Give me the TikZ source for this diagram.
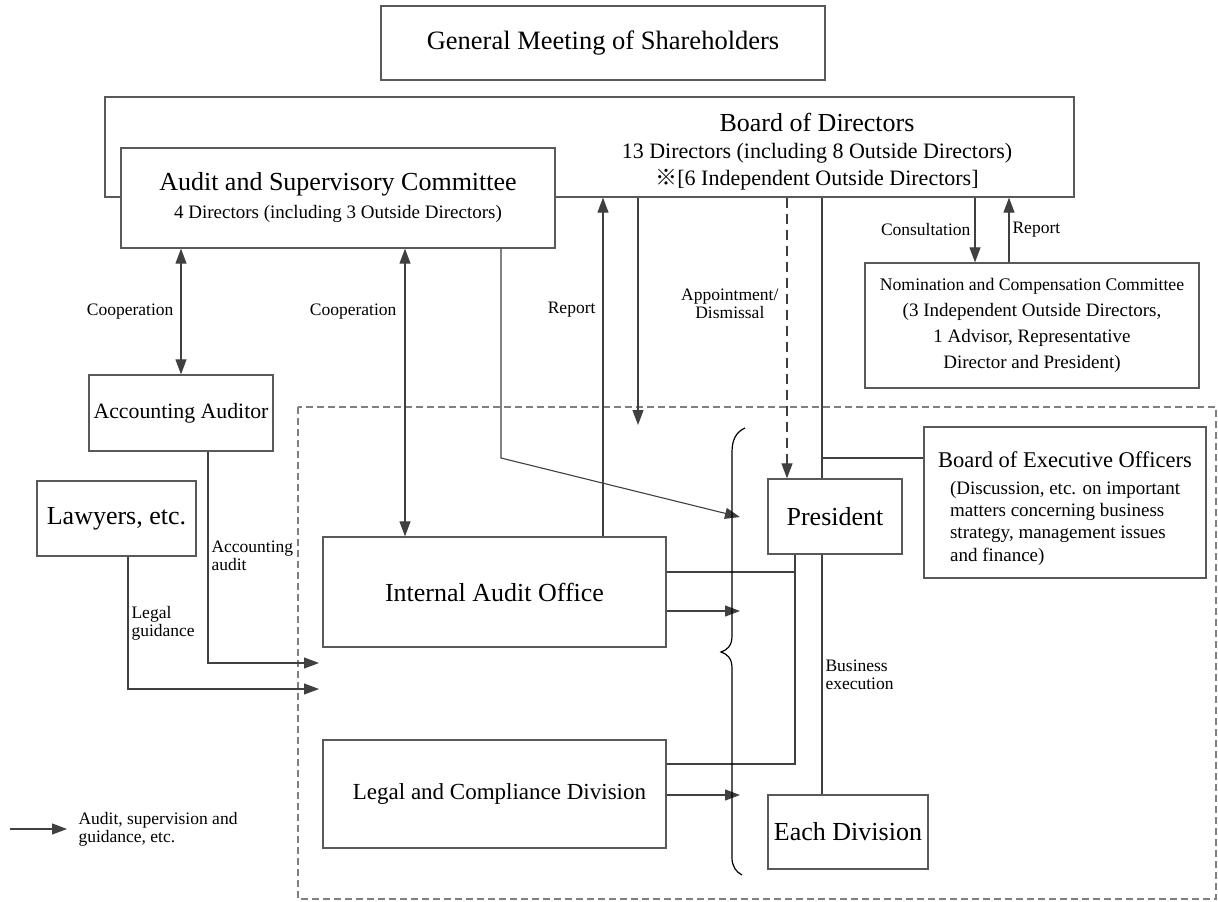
\documentclass[tikz,border=0pt]{standalone}
\usepackage{fontspec}
\setmainfont{Liberation Serif}
\newfontfamily\jpfont{Noto Sans CJK JP}
\usetikzlibrary{arrows.meta}
\begin{document}
\begin{tikzpicture}[x=1pt,y=-1pt,
        box/.style={draw=black!65,line width=1.3pt,fill=white,inner sep=0pt,align=center},
        conn/.style={draw=black!75,line width=1.1pt},
        arr/.style={conn,-{Triangle[length=15pt,width=11pt]}},
        biarr/.style={conn,{Triangle[length=15pt,width=11pt]}-{Triangle[length=15pt,width=11pt]}},
        lbl/.style={font=\fontsize{17.5}{18}\selectfont,inner sep=0pt},
        region/.style={draw=black!50,line width=1.2pt,dash pattern=on 7pt off 4pt}]
    \useasboundingbox (0,0) rectangle (1218,902);
    \fill[white] (0,0) rectangle (1218,902);
    \draw[region] (298,407) rectangle (1216,899);

    \node [box,minimum width=444pt,minimum height=74pt,font=\fontsize{26.5}{30}\selectfont] (gms) at (603,43) {General Meeting of Shareholders};
    \node [box,minimum width=969pt,minimum height=100pt] (bod) at (589.5,147) {};
    \node [inner sep=0pt,align=center,font=\fontsize{22}{27}\selectfont] (bodtext) at (817,152)
        {{\fontsize{26}{30}\selectfont Board of Directors}\\13 Directors (including 8 Outside Directors)\\{\jpfont ※}[6 Independent Outside Directors]};
    \node [box,minimum width=434pt,minimum height=100pt,font=\fontsize{19}{28}\selectfont] (asc) at (338,198)
        {{\fontsize{26}{28}\selectfont Audit and Supervisory Committee}\\4 Directors (including 3 Outside Directors)};
    \node [box,minimum width=334pt,minimum height=125pt,font=\fontsize{19}{26}\selectfont] (ncc) at (1032,325.5)
        {{\fontsize{17.7}{26}\selectfont Nomination and Compensation Committee}\\(3 Independent Outside Directors,\\1 Advisor, Representative\\Director and President)};
    \node [box,minimum width=184pt,minimum height=76pt,font=\fontsize{21.8}{26}\selectfont] (aa) at (181,413) {Accounting Auditor};
    \node [box,minimum width=159pt,minimum height=75pt,font=\fontsize{26}{30}\selectfont] (law) at (116.5,518.5) {Lawyers, etc.};
    \node [box,minimum width=343pt,minimum height=110pt,font=\fontsize{26}{30}\selectfont] (iao) at (494.5,592) {Internal Audit Office};
    \node [box,minimum width=343pt,minimum height=108pt,font=\fontsize{23}{28}\selectfont] (lcd) at (494.5,794) {\hspace*{10pt}Legal and Compliance Division};
    \node [box,minimum width=134pt,minimum height=75pt,font=\fontsize{26}{30}\selectfont] (pres) at (835,516.5) {President};
    \node [box,minimum width=160pt,minimum height=74pt,font=\fontsize{26}{30}\selectfont] (each) at (848,832) {Each Division};
    \node [box,minimum width=282pt,minimum height=151pt,align=left,font=\fontsize{19}{22.3}\selectfont] (beo) at (1065,502.5)
        {{\fontsize{22.5}{28}\selectfont\rule{0pt}{28pt}Board of Executive Officers}\\[4pt]
         \hspace*{12pt}(Discussion, etc. on important\\
         \hspace*{12pt}matters concerning business\\
         \hspace*{12pt}strategy, management issues\\
         \hspace*{12pt}and finance)};

    \coordinate (xcoop) at (405,0);
    \coordinate (xrep) at (603,0);
    \coordinate (xasc) at (501,0);
    \coordinate (xappt) at (787,0);
    \coordinate (xbus) at (822,0);
    \coordinate (xcons) at (975,0);
    \coordinate (xnrep) at (1009,0);
    \coordinate (xacc) at (208,0);
    \coordinate (xlaw) at (128,0);
    \coordinate (xpres) at (795,0);
    \coordinate (ybeo) at (0,458);
    \coordinate (yiao) at (0,572);
    \coordinate (ylcd) at (0,764);
    \coordinate (dtip) at (638,425);
    \coordinate (bend) at (501,458);
    \coordinate (brpres) at (740,517);
    \coordinate (briao) at (740,611);
    \coordinate (brlcd) at (740,795);
    \coordinate (inacc) at (319,663);
    \coordinate (inlaw) at (319,689);
    \coordinate (legA) at (10,829);
    \coordinate (legB) at (67,829);

    \draw[biarr] (asc.south -| aa.north) -- (aa.north) node[lbl,midway,left=7pt] {Cooperation};
    \draw[biarr] (asc.south -| xcoop) -- (iao.north -| xcoop) node[lbl,pos=0.22,left=8pt] {Cooperation};
    \draw[arr] (iao.north -| xrep) -- (bod.south -| xrep) node[lbl,pos=0.668,left=7pt] {Report};
    \draw[arr] (bod.south -| dtip) -- (dtip);
    \draw[arr,dash pattern=on 10pt off 6pt] (bod.south -| xappt) -- (pres.north -| xappt)
        node[lbl,pos=0.378,left=8pt,align=center] {Appointment/\\Dismissal};
    \draw[conn] (bod.south -| xbus) -- (pres.north -| xbus);
    \draw[conn] (pres.south -| xbus) -- (each.north -| xbus) node[lbl,midway,right=3pt,align=left] {Business\\execution};
    \draw[conn] (xbus |- ybeo) -- (beo.west |- ybeo);
    \draw[arr] (bod.south -| xcons) -- (ncc.north -| xcons) node[lbl,midway,left=4pt] {Consultation};
    \draw[arr] (ncc.north -| xnrep) -- (bod.south -| xnrep) node[lbl,midway,right=3pt] {Report};
    \draw[arr] (asc.south -| bend) -- (bend) -- (brpres);
    \draw[arr] (aa.south -| xacc) |- (inacc) node[lbl,pos=0.246,right=3pt,align=left] {Accounting\\audit};
    \draw[arr] (law.south -| xlaw) |- (inlaw) node[lbl,pos=0.25,right=3pt,align=left] {Legal\\guidance};
    \draw[conn] (iao.east |- yiao) -| (pres.south -| xpres);
    \draw[arr] (iao.east |- briao) -- (briao);
    \draw[conn] (lcd.east |- ylcd) -| (pres.south -| xpres);
    \draw[arr] (lcd.east |- brlcd) -- (brlcd);
    \draw[arr] (legA) -- (legB) node[lbl,right=11pt,align=left] {Audit, supervision and\\guidance, etc.};

    \draw[black,line width=1.2pt] (745,428) .. controls (736,432) and (732,440) .. (732,452) -- (732,636)
        .. controls (732,646) and (727,650) .. (721,652) .. controls (727,654) and (732,658) .. (732,668)
        -- (732,858) .. controls (732,866) and (736,872) .. (742,875);
\end{tikzpicture}
\end{document}
